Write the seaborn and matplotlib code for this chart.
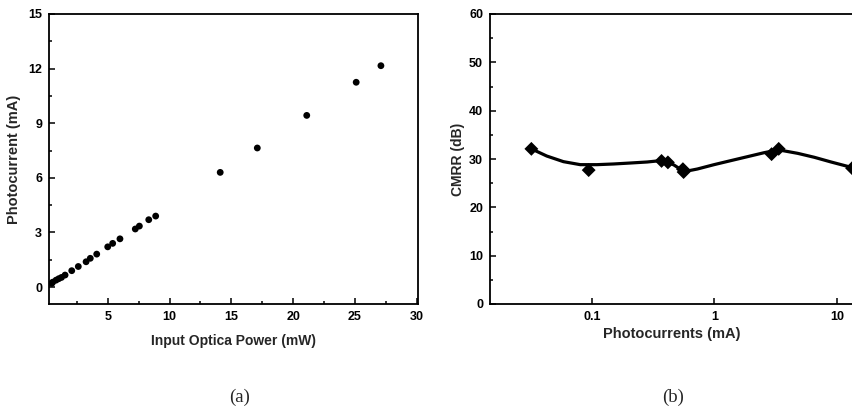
import numpy as np
import pandas as pd
import matplotlib
matplotlib.use("Agg")
import matplotlib.pyplot as plt
import seaborn as sns
from matplotlib.ticker import MultipleLocator, FixedLocator, NullLocator, FuncFormatter

# (a) photocurrent vs input optical power
power_mw = [0.47, 0.55, 0.82, 1.04, 1.26, 1.55, 2.09, 2.62, 3.25, 3.59, 4.11,
            5.0, 5.40, 5.99, 7.23, 7.56, 8.32, 8.88,
            14.1, 17.1, 21.1, 25.1, 27.1]
photocurrent_ma = [0.20, 0.27, 0.38, 0.46, 0.53, 0.66, 0.90, 1.13, 1.39, 1.58, 1.81,
                   2.21, 2.40, 2.65, 3.19, 3.35, 3.70, 3.90,
                   6.30, 7.64, 9.43, 11.25, 12.16]

# (b) CMRR vs photocurrent (measured points)
cmrr_current = [0.032, 0.094, 0.37, 0.417, 0.553, 0.56, 2.93, 3.35, 13.3]
cmrr_db = [32.1, 27.7, 29.6, 29.3, 27.9, 27.3, 31.0, 32.1, 28.1]

# (b) smoothed curve
fit_current = [0.0322, 0.0427, 0.0585, 0.0802, 0.110, 0.150, 0.206, 0.282, 0.363,
               0.412, 0.467, 0.530, 0.564, 0.726, 0.993, 1.36, 1.86, 2.55,
               3.08, 3.39, 4.79, 6.55, 8.97, 13.1]
fit_db = [32.07, 30.62, 29.45, 28.83, 28.83, 28.97, 29.17, 29.38, 29.66,
          29.38, 28.76, 27.86, 27.38, 27.93, 28.83, 29.66, 30.48, 31.31,
          31.72, 31.86, 31.17, 30.35, 29.38, 28.28]

sns.set_style("ticks")
plt.rcParams['font.family'] = ['Liberation Sans', 'DejaVu Sans']
plt.rcParams['font.weight'] = 'bold'
plt.rcParams['axes.labelweight'] = 'bold'

W, H = 852, 413
fig = plt.figure(figsize=(W / 100, H / 100), dpi=100)
ax1 = fig.add_axes([49 / W, (H - 304) / H, 369 / W, 290 / H])
ax2 = fig.add_axes([490 / W, (H - 304) / H, 364 / W, 290 / H])

df_a = pd.DataFrame({'power': power_mw, 'current': photocurrent_ma})
sns.scatterplot(data=df_a, x='power', y='current', ax=ax1, color='black',
                s=24, edgecolor='none', legend=False)
ax1.set_xlim(0.25, 30.1)
ax1.set_ylim(-0.93, 15)
ax1.xaxis.set_major_locator(FixedLocator([5, 10, 15, 20, 25, 30]))
ax1.xaxis.set_minor_locator(MultipleLocator(2.5))
ax1.yaxis.set_major_locator(MultipleLocator(3))
ax1.yaxis.set_minor_locator(MultipleLocator(1.5))
ax1.set_xlabel("Input Optica Power (mW)", fontsize=10, labelpad=8)
ax1.set_ylabel("Photocurrent (mA)", fontsize=10.5, labelpad=5)

df_fit = pd.DataFrame({'x': fit_current, 'y': fit_db})
df_b = pd.DataFrame({'x': cmrr_current, 'y': cmrr_db})
sns.lineplot(data=df_fit, x='x', y='y', ax=ax2, color='black', lw=2.3,
             sort=False)
sns.scatterplot(data=df_b, x='x', y='y', ax=ax2, color='black', marker='D',
                s=50, edgecolor='none', legend=False, clip_on=False)
ax2.set_xscale('log')
ax2.set_xlim(0.0147, 13.8)
ax2.set_ylim(0, 60)
ax2.xaxis.set_major_locator(FixedLocator([0.1, 1, 10]))
ax2.xaxis.set_minor_locator(NullLocator())
ax2.xaxis.set_major_formatter(FuncFormatter(lambda v, p: f"{v:g}"))
ax2.yaxis.set_major_locator(MultipleLocator(10))
ax2.yaxis.set_minor_locator(MultipleLocator(5))
ax2.set_xlabel("Photocurrents (mA)", fontsize=10.5, labelpad=3)
ax2.set_ylabel("CMRR (dB)", fontsize=10, labelpad=3)

for ax in (ax1, ax2):
    for sp in ax.spines.values():
        sp.set_visible(True)
        sp.set_linewidth(1.3)
        sp.set_color('black')
    ax.tick_params(which='both', direction='in', labelsize=9, width=1.1,
                   colors='black', top=False, right=False)
    ax.tick_params(which='major', length=4, pad=5)
    ax.tick_params(which='minor', length=2.5)
    for lab in ax.get_xticklabels() + ax.get_yticklabels():
        lab.set_fontweight('bold')

fig.text(240 / W, 1 - 397 / H, "(a)", ha='center', va='center', fontsize=13.5,
         family=['Liberation Serif', 'DejaVu Serif'], fontweight='normal')
fig.text(673 / W, 1 - 397 / H, "(b)", ha='center', va='center', fontsize=13.5,
         family=['Liberation Serif', 'DejaVu Serif'], fontweight='normal')

fig.savefig("out.png", dpi=100, facecolor='white')
